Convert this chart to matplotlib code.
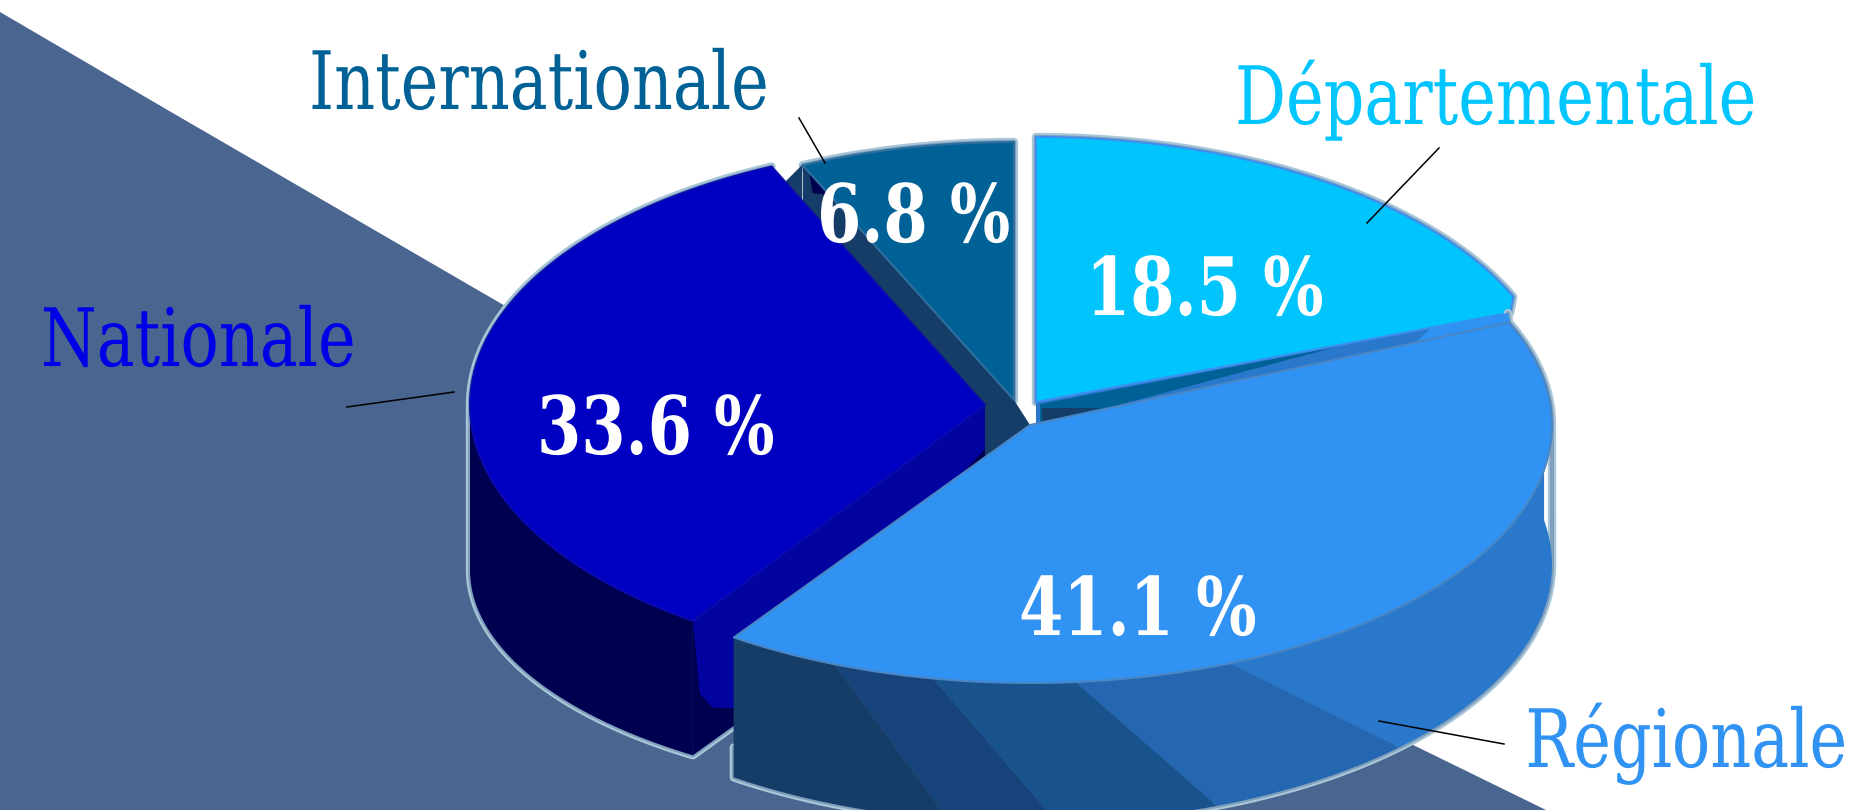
import numpy as np
import matplotlib
matplotlib.use("Agg")
import matplotlib.pyplot as plt
from matplotlib.patches import Polygon
from matplotlib.patheffects import AbstractPathEffect
from matplotlib.transforms import Affine2D

# ---- data ----
categories = ["Départementale", "Régionale", "Nationale", "Internationale"]
shares = [18.5, 41.1, 33.6, 6.8]
label_colors = ["#00c5ff", "#3092f2", "#0000e6", "#006196"]
face_colors = ["#00c5fc", "#3092f2", "#0000c2", "#006196"]

# ---- geometry / style ----
W, H = 1851, 810
DEPTH = 140
ellipses = {"Départementale": (1036, 402, 520, 265),
            "Régionale": (1030, 425, 522, 258),
            "Nationale": (985, 405, 515, 262),
            "Internationale": (1014, 400, 510, 258)}
label_pos = {"Départementale": (1235, 124), "Régionale": (1847, 767),
             "Nationale": (41, 366), "Internationale": (309, 109)}
pct_pos = {"Départementale": (1086, 315), "Régionale": (1019, 635),
           "Nationale": (537, 454), "Internationale": (817, 242)}
leaders = {"Départementale": ((1439, 148), (1367, 223)),
           "Régionale": ((1504, 744), (1379, 721)),
           "Nationale": ((347, 407), (454, 392)),
           "Internationale": ((799, 118), (825, 163))}
backdrop = [(0, 12), (171, 112), (507, 307), (1405, 741), (1546, 810), (0, 810)]
hub = [(985, 405), (1014, 400), (1030, 425), (985, 460)]
notch = [(785, 182), (802, 165), (802, 210)]
shoulder = [(1415, 343), (1432, 327), (1508, 313), (1512, 330)]
wall_bands = [("#163c68", 214.6, 202, 214.6, 189),
              ("#16447a", 202, 190.7, 189, 177),
              ("#18538e", 190.7, 175, 177, 159),
              ("#2467b0", 175, 157.5, 159, 135),
              ("#2a78cc", 157.5, 80, 135, 80)]
RIM_L, RIM_M = "#a9c7d8", "#7f9fbc"
CONDENSE = 0.878

edges = np.concatenate([[0], np.cumsum(shares)]) / np.sum(shares) * 360
ang = {c: (edges[i], edges[i + 1]) for i, c in enumerate(categories)}
col = dict(zip(categories, face_colors))


class XScale(AbstractPathEffect):
    """Narrow the glyphs horizontally about x0 (the reference is squeezed sideways)."""

    def __init__(self, sx, x0):
        super().__init__()
        self.sx, self.x0 = sx, x0

    def draw_path(self, renderer, gc, tpath, affine, rgbFace=None):
        t = affine + Affine2D().translate(-self.x0, 0).scale(self.sx, 1).translate(self.x0, 0)
        renderer.draw_path(gc, tpath, t, rgbFace)


def arc(c, t0, t1, dy=0, n=80, b=None):
    cx, cy, a, b0 = ellipses[c]
    b = b0 if b is None else b
    t = np.radians(np.linspace(t0, t1, n))
    return np.column_stack([cx + a * np.sin(t), cy - b * np.cos(t) + dy])


def apex(c, dy=0):
    return np.array([[ellipses[c][0], ellipses[c][1] + dy]])


fig = plt.figure(figsize=(W / 100, H / 100), dpi=100, facecolor="white")
ax = fig.add_axes([0, 0, 1, 1])
ax.set_xlim(0, W)
ax.set_ylim(H, 0)
ax.axis("off")


def poly(pts, fc, ec="none", lw=0, z=1):
    ax.add_patch(Polygon(pts, closed=True, fc=fc, ec=ec, lw=lw, zorder=z, joinstyle="round"))


def rim(pts, z, closed=False):
    pts = np.vstack([pts, pts[:1]]) if closed else pts
    ax.plot(pts[:, 0], pts[:, 1], color=RIM_L, lw=6, zorder=z, solid_capstyle="round")
    ax.plot(pts[:, 0], pts[:, 1], color=RIM_M, lw=3, zorder=z + 0.1, solid_capstyle="round")


poly(backdrop, "#4a658f", z=0)

# Départementale
c = "Départementale"
t0, t1 = ang[c]
corner = arc(c, t1, t1, n=1)[0] + (-3, 16)
face = np.vstack([apex(c), arc(c, t0, t1), [corner]])
rim(face, 1, closed=True)
p = apex(c)[0]
poly([p, corner, corner + (0, 45), p + (0, 45)], "#2a78cc", z=2)
poly([p + (4, 2), p + (300, -55), p + (4, 24)], "#006196", z=2.1)
poly([p + (6, 6), p + (64, 6), p + (6, 20)], "#163c68", z=2.2)
poly(face, col[c], ec="#3d8ff0", lw=1.5, z=3)

# Internationale
c = "Internationale"
t0, t1 = ang[c]
face = np.vstack([apex(c), arc(c, t0, t1)])
rim(face, 1, closed=True)
corner = arc(c, t0, t0, n=1)[0]
poly([apex(c)[0], corner, corner + (0, 70), apex(c)[0] + (0, 70)], "#163c68", z=2)
poly(hub, "#163c68", z=2)
poly(notch, "#163c68", z=2)
poly([corner + (6, 4), corner + (30, 30), corner + (10, 28)], "#000050", z=2.1)
poly(face, col[c], ec="#2f6f9f", lw=1.5, z=3)

# Nationale
c = "Nationale"
t0, t1 = ang[c]
WALL_DY, WALL_B = 165, 225
bottom = arc(c, 270, t0, WALL_DY, b=WALL_B)
rim(np.vstack([arc(c, t1, 270), bottom, [[735, 725]]]), 4)
poly(np.vstack([arc(c, t0, 270), bottom]), "#000050", z=5)
corner = arc(c, t0, t0, n=1)[0]
poly([apex(c)[0], corner, bottom[-1], apex(c, DEPTH)[0]], "#000050", z=5)
poly([apex(c)[0], corner, corner + (7, 73), corner + (20, 87), corner + (50, 87), apex(c, 44)[0]],
     "#0303a0", z=5.1)
face = np.vstack([apex(c), arc(c, t0, t1)])
poly(face, col[c], ec="#0a0ab0", lw=1.5, z=6)

# Régionale
c = "Régionale"
t0, t1 = ang[c]
bottom_l = arc(c, t1, t1, DEPTH, n=1)
rim(np.vstack([bottom_l + (0, -30), arc(c, t1, 90, DEPTH), arc(c, 90, t0), [shoulder[2]]]), 7)
for color, top_a, top_b, bot_a, bot_b in wall_bands:
    poly(np.vstack([arc(c, top_a, top_b), arc(c, bot_b, bot_a, DEPTH)]), color, z=8)
face = np.vstack([apex(c), arc(c, t0, t1)])
poly(shoulder, col[c], z=8.5)
poly(face, col[c], ec="#4a86c4", lw=1.5, z=9)

# leader lines
for c, (p0, p1) in leaders.items():
    ax.plot([p0[0], p1[0]], [p0[1], p1[1]], color="black", lw=1.1, zorder=12)

# texts
serif = dict(family="DejaVu Serif", stretch="condensed")
for c, share, lc in zip(categories, shares, label_colors):
    x, y = label_pos[c]
    ha = "right" if c == "Régionale" else "left"
    ax.text(x, y, c, color=lc, fontsize=58, ha=ha, va="baseline", zorder=13,
            path_effects=[XScale(CONDENSE, x)], **serif)
    x, y = pct_pos[c]
    ax.text(x, y, f"{share} %", color="white", fontsize=58, fontweight="bold",
            ha="left", va="baseline", zorder=13, path_effects=[XScale(CONDENSE, x)], **serif)

fig.savefig("out.png", dpi=100, facecolor="white")
